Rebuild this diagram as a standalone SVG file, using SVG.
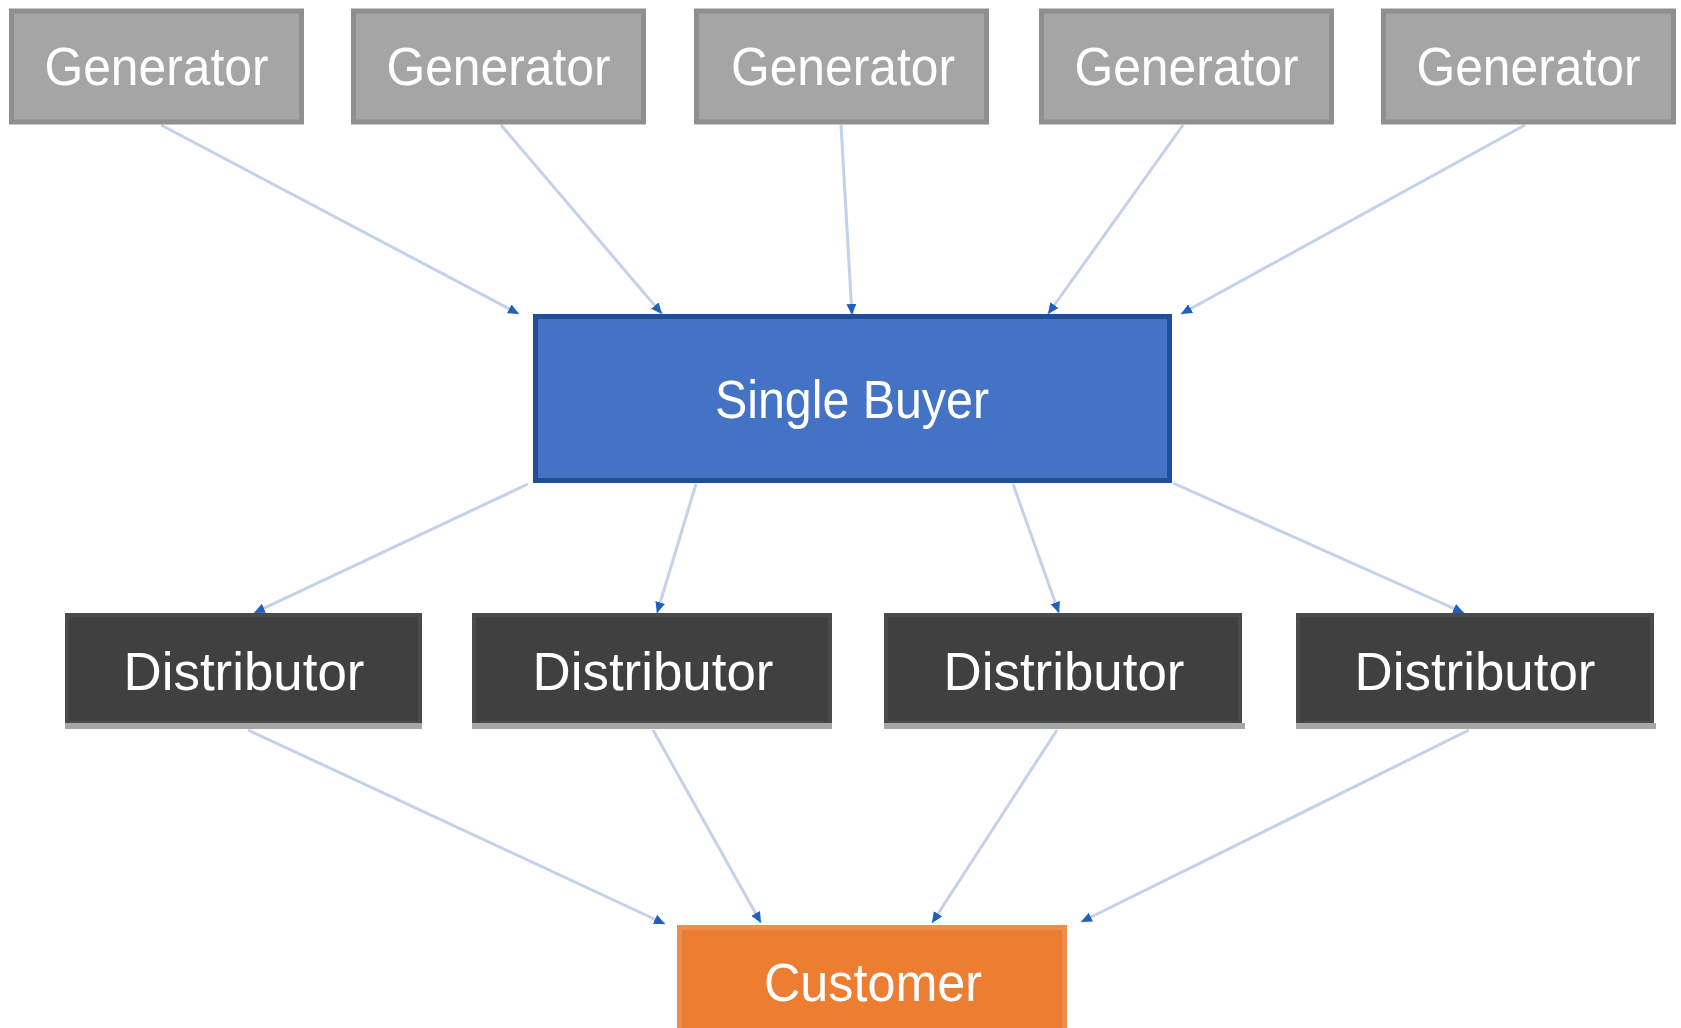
<svg xmlns="http://www.w3.org/2000/svg" width="1681" height="1028" viewBox="0 0 1681 1028">
  <style>
    .gen rect { fill: #A5A5A5; stroke: #8F8F8F; stroke-width: 5; }
    .dist rect.body { fill: #404040; stroke: #4A4A4A; stroke-width: 4; }
    .dist rect.base { fill: #A6A6A6; }
    .buyer rect { fill: #4472C4; stroke: #1F4E9B; stroke-width: 5; }
    .cust rect { fill: #ED7D31; stroke: #EE8D4E; stroke-width: 5; }
    text { font-family: "Liberation Sans", Arial, sans-serif; font-size: 53px; fill: #FFFFFF; text-anchor: middle; }
    .conn line { stroke: #C3D1EC; stroke-width: 3; fill: none; marker-end: url(#arrow); }
  </style>
  <defs>
    <marker id="arrow" markerUnits="userSpaceOnUse" markerWidth="12" markerHeight="12" refX="11" refY="6" orient="auto">
      <path d="M0,1 L11,6 L0,11 z" fill="#1F5FC0"/>
    </marker>
  </defs>
  <rect width="1681" height="1028" fill="#FFFFFF"/>

  <g id="connectors" class="conn">
    <line x1="161" y1="125" x2="519" y2="314"/>
    <line x1="501" y1="125" x2="662" y2="314"/>
    <line x1="841" y1="125" x2="852" y2="315"/>
    <line x1="1183" y1="125" x2="1048" y2="314"/>
    <line x1="1525" y1="125" x2="1181" y2="314"/>
    <line x1="528" y1="484" x2="254" y2="613"/>
    <line x1="696" y1="484" x2="657" y2="613"/>
    <line x1="1013" y1="484" x2="1059" y2="613"/>
    <line x1="1173" y1="483" x2="1464" y2="613"/>
    <line x1="248" y1="730" x2="665" y2="924"/>
    <line x1="653" y1="730" x2="761" y2="923"/>
    <line x1="1057" y1="730" x2="932" y2="923"/>
    <line x1="1469" y1="730" x2="1081" y2="922"/>
  </g>

  <g id="gen1" class="gen"><rect x="11.5" y="11" width="290" height="111"/><text x="156.5" y="85" textLength="224" lengthAdjust="spacingAndGlyphs">Generator</text></g>
  <g id="gen2" class="gen"><rect x="353.5" y="11" width="290" height="111"/><text x="498.5" y="85" textLength="224" lengthAdjust="spacingAndGlyphs">Generator</text></g>
  <g id="gen3" class="gen"><rect x="696.5" y="11" width="290" height="111"/><text x="843" y="85" textLength="224" lengthAdjust="spacingAndGlyphs">Generator</text></g>
  <g id="gen4" class="gen"><rect x="1041.5" y="11" width="290" height="111"/><text x="1186.5" y="85" textLength="224" lengthAdjust="spacingAndGlyphs">Generator</text></g>
  <g id="gen5" class="gen"><rect x="1383.5" y="11" width="290" height="111"/><text x="1528.5" y="85" textLength="224" lengthAdjust="spacingAndGlyphs">Generator</text></g>

  <g id="single-buyer" class="buyer"><rect x="535.5" y="316.5" width="634" height="164"/><text x="852" y="418" textLength="274" lengthAdjust="spacingAndGlyphs">Single Buyer</text></g>

  <g id="dist1" class="dist"><rect class="body" x="67" y="615" width="353" height="108"/><rect class="base" x="65" y="723" width="357" height="6"/><text x="244" y="690" textLength="241" lengthAdjust="spacingAndGlyphs">Distributor</text></g>
  <g id="dist2" class="dist"><rect class="body" x="474" y="615" width="356" height="108"/><rect class="base" x="472" y="723" width="360" height="6"/><text x="653" y="690" textLength="241" lengthAdjust="spacingAndGlyphs">Distributor</text></g>
  <g id="dist3" class="dist"><rect class="body" x="886" y="615" width="354" height="108"/><rect class="base" x="884" y="723" width="361" height="6"/><text x="1064" y="690" textLength="241" lengthAdjust="spacingAndGlyphs">Distributor</text></g>
  <g id="dist4" class="dist"><rect class="body" x="1298" y="615" width="354" height="108"/><rect class="base" x="1296" y="723" width="360" height="6"/><text x="1475" y="690" textLength="241" lengthAdjust="spacingAndGlyphs">Distributor</text></g>

  <g id="customer" class="cust"><rect x="679.5" y="927.5" width="385" height="130"/><text x="873" y="1001" textLength="218" lengthAdjust="spacingAndGlyphs">Customer</text></g>
</svg>
